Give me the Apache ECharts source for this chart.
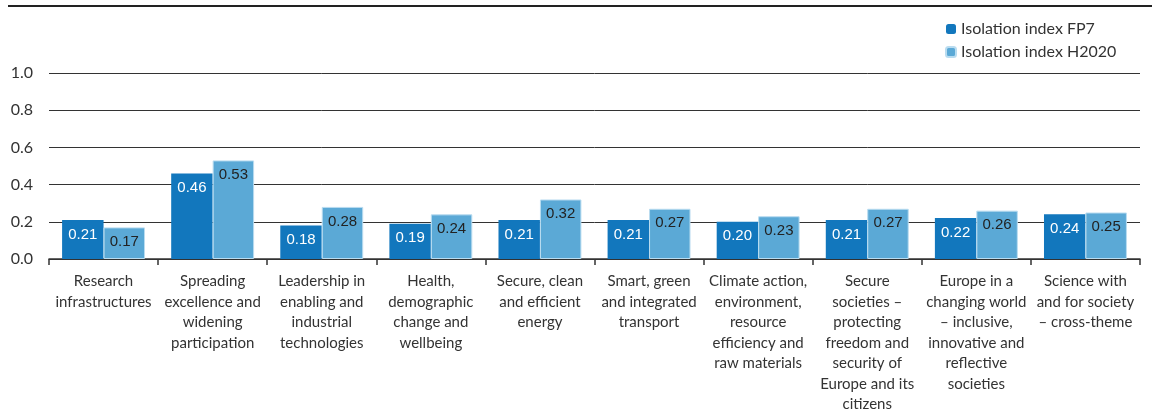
<!DOCTYPE html>
<html lang="en">
<head>
    <meta charset="UTF-8">
    <title>Isolation index</title>
    <script src="https://cdn.jsdelivr.net/npm/echarts@6/dist/echarts.min.js"></script>
</head>
<body style="margin:0;background:#fff">
<div id="chart" style="height: 410px; width: 1152px"></div>
<script>
    var categories = [
        'Research\ninfrastructures',
        'Spreading\nexcellence and\nwidening\nparticipation',
        'Leadership in\nenabling and\nindustrial\ntechnologies',
        'Health,\ndemographic\nchange and\nwellbeing',
        'Secure, clean\nand efficient\nenergy',
        'Smart, green\nand integrated\ntransport',
        'Climate action,\nenvironment,\nresource\nefficiency and\nraw materials',
        'Secure\nsocieties \u2013\nprotecting\nfreedom and\nsecurity of\nEurope and its\ncitizens',
        'Europe in a\nchanging world\n\u2013 inclusive,\ninnovative and\nreflective\nsocieties',
        'Science with\nand for society\n\u2013 cross-theme'
    ];
    var fp7 = [0.21, 0.46, 0.18, 0.19, 0.21, 0.21, 0.20, 0.21, 0.22, 0.24];
    var h2020 = [0.17, 0.53, 0.28, 0.24, 0.32, 0.27, 0.23, 0.27, 0.26, 0.25];

    var chart = echarts.init(document.getElementById('chart'));
    var labelFont = 'Liberation Sans, Arial, sans-serif';
    var textFont = 'Lato, Noto Sans, sans-serif';

    var option = {
        animation: false,
        graphic: [{
            type: 'line',
            shape: {x1: 8, y1: 6, x2: 1152, y2: 6},
            style: {stroke: '#222', lineWidth: 2}
        }],
        legend: {
            orient: 'vertical',
            left: 940,
            top: 16,
            itemWidth: 10,
            itemHeight: 10,
            itemGap: 7,
            textStyle: {fontFamily: textFont, fontSize: 16, color: '#333'},
            data: ['Isolation index FP7', 'Isolation index H2020']
        },
        grid: {left: 49, right: 12, top: 73, bottom: 151, outerBoundsMode: 'none'},
        xAxis: {
            type: 'category',
            data: categories,
            axisLine: {lineStyle: {color: '#333', width: 1.5}},
            axisTick: {show: true, length: 6, lineStyle: {color: '#333', width: 1.5}},
            axisLabel: {
                interval: 0,
                margin: 12,
                fontFamily: textFont,
                fontSize: 15,
                lineHeight: 20.5,
                color: '#333'
            }
        },
        yAxis: {
            type: 'value',
            min: 0,
            max: 1,
            interval: 0.2,
            axisLine: {show: false},
            axisTick: {show: false},
            axisLabel: {
                margin: 16,
                fontFamily: textFont,
                fontSize: 16,
                color: '#333',
                formatter: function (v) { return v.toFixed(1); }
            },
            splitLine: {lineStyle: {color: '#333', width: 1}}
        },
        series: [{
            name: 'Isolation index FP7',
            type: 'bar',
            data: fp7,
            barGap: '0%',
            barCategoryGap: '24%',
            itemStyle: {color: '#1277bd'},
            label: {
                show: true,
                position: 'insideTop',
                distance: 7,
                fontFamily: labelFont,
                fontSize: 15,
                color: '#fff',
                formatter: function (p) { return p.value.toFixed(2); }
            }
        }, {
            name: 'Isolation index H2020',
            type: 'bar',
            data: h2020,
            itemStyle: {color: '#5ba9d6', borderColor: '#b9dcf0', borderWidth: 1},
            label: {
                show: true,
                position: 'insideTop',
                distance: 7,
                fontFamily: labelFont,
                fontSize: 15,
                color: '#222',
                formatter: function (p) { return p.value.toFixed(2); }
            }
        }]
    };
    chart.setOption(option);
</script>
</body>
</html>
